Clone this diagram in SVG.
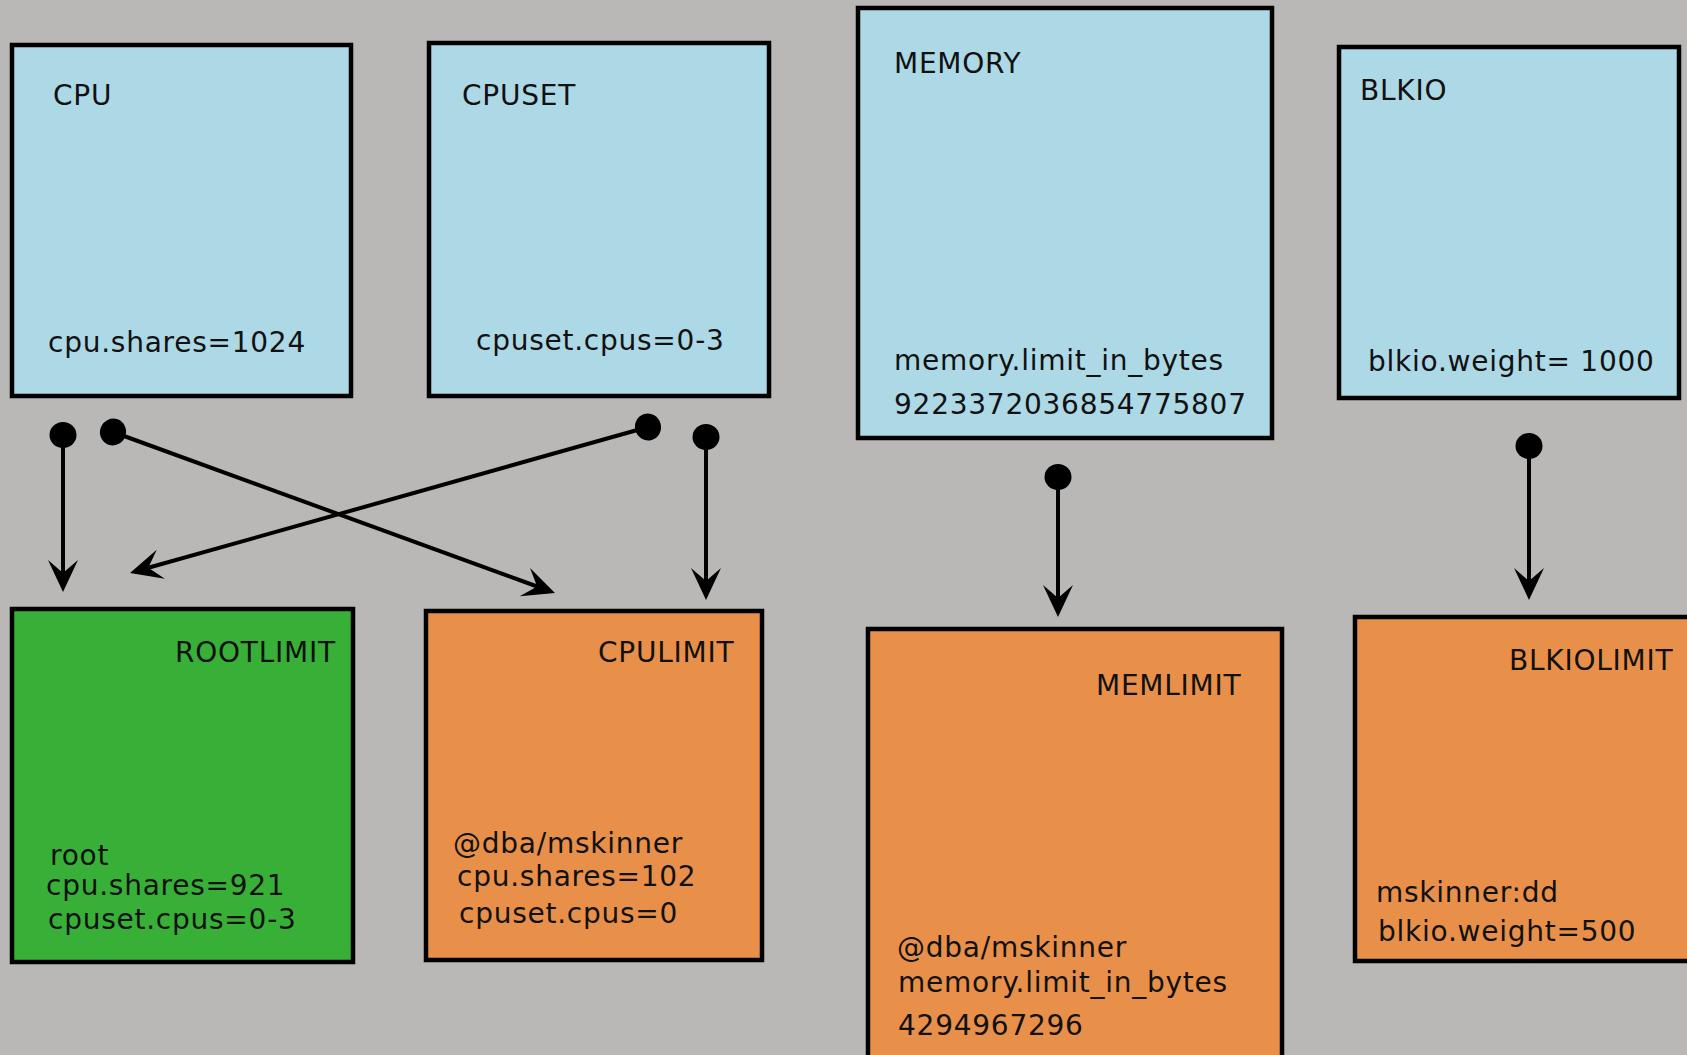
<svg xmlns="http://www.w3.org/2000/svg" width="1687" height="1055" viewBox="0 0 1687 1055">
<style>
  .box { stroke: #000; stroke-width: 4.5; }
  .src { fill: #add8e6; }
  .root { fill: #38b038; }
  .lim { fill: #e8904a; }
  text { font-family: "DejaVu Sans", "Liberation Sans", sans-serif; font-size: 28px; fill: #111; letter-spacing: 0.75px; }
  .conn { stroke: #000; stroke-width: 4; fill: none; marker-start: url(#dot); marker-end: url(#arrow); }
</style>
<defs>
  <marker id="dot" markerUnits="userSpaceOnUse" viewBox="-15 -15 30 30" refX="0" refY="0" markerWidth="30" markerHeight="30" orient="auto">
    <ellipse cx="0" cy="0" rx="13" ry="13.5" fill="#000"/>
  </marker>
  <marker id="arrow" markerUnits="userSpaceOnUse" viewBox="-15 -17 36 34" refX="0" refY="0" markerWidth="36" markerHeight="34" orient="auto" overflow="visible">
    <path d="M19,0 L-13,-15 L0,0 L-13,15 Z" fill="#000"/>
  </marker>
</defs>
<rect x="0" y="0" width="1687" height="1055" fill="#b9b8b6"/>

<g id="cpu">
  <rect class="box src" x="12" y="45" width="339" height="351"/>
  <text x="53" y="105">CPU</text>
  <text x="48" y="352">cpu.shares=1024</text>
</g>
<g id="cpuset">
  <rect class="box src" x="429" y="43" width="340" height="353"/>
  <text x="462" y="105">CPUSET</text>
  <text x="476" y="350">cpuset.cpus=0-3</text>
</g>
<g id="memory">
  <rect class="box src" x="858" y="8" width="414" height="430"/>
  <text x="894" y="73">MEMORY</text>
  <text x="894" y="370">memory.limit_in_bytes</text>
  <text x="894" y="414">9223372036854775807</text>
</g>
<g id="blkio">
  <rect class="box src" x="1339" y="47" width="340" height="351"/>
  <text x="1360" y="100">BLKIO</text>
  <text x="1368" y="371">blkio.weight= 1000</text>
</g>
<g id="rootlimit">
  <rect class="box root" x="12" y="609" width="341" height="353"/>
  <text x="175" y="662">ROOTLIMIT</text>
  <text x="50" y="865">root</text>
  <text x="46" y="895">cpu.shares=921</text>
  <text x="48" y="929">cpuset.cpus=0-3</text>
</g>
<g id="cpulimit">
  <rect class="box lim" x="426" y="611" width="336" height="349"/>
  <text x="598" y="662">CPULIMIT</text>
  <text x="453" y="853">@dba/mskinner</text>
  <text x="457" y="886">cpu.shares=102</text>
  <text x="459" y="923">cpuset.cpus=0</text>
</g>
<g id="memlimit">
  <rect class="box lim" x="868" y="629" width="414" height="500"/>
  <text x="1096" y="695">MEMLIMIT</text>
  <text x="897" y="957">@dba/mskinner</text>
  <text x="898" y="992">memory.limit_in_bytes</text>
  <text x="898" y="1035">4294967296</text>
</g>
<g id="blkiolimit">
  <rect class="box lim" x="1355" y="617" width="400" height="344"/>
  <text x="1509" y="670">BLKIOLIMIT</text>
  <text x="1376" y="902">mskinner:dd</text>
  <text x="1378" y="941">blkio.weight=500</text>
</g>

<g id="connectors">
  <line class="conn" x1="63" y1="435" x2="63" y2="573"/>
  <line class="conn" x1="113" y1="432" x2="537.1" y2="586.5"/>
  <line class="conn" x1="648" y1="427" x2="148.3" y2="567.8"/>
  <line class="conn" x1="706" y1="437" x2="706" y2="581"/>
  <line class="conn" x1="1058" y1="477" x2="1058" y2="598"/>
  <line class="conn" x1="1529" y1="446" x2="1529" y2="581"/>
</g>
</svg>
